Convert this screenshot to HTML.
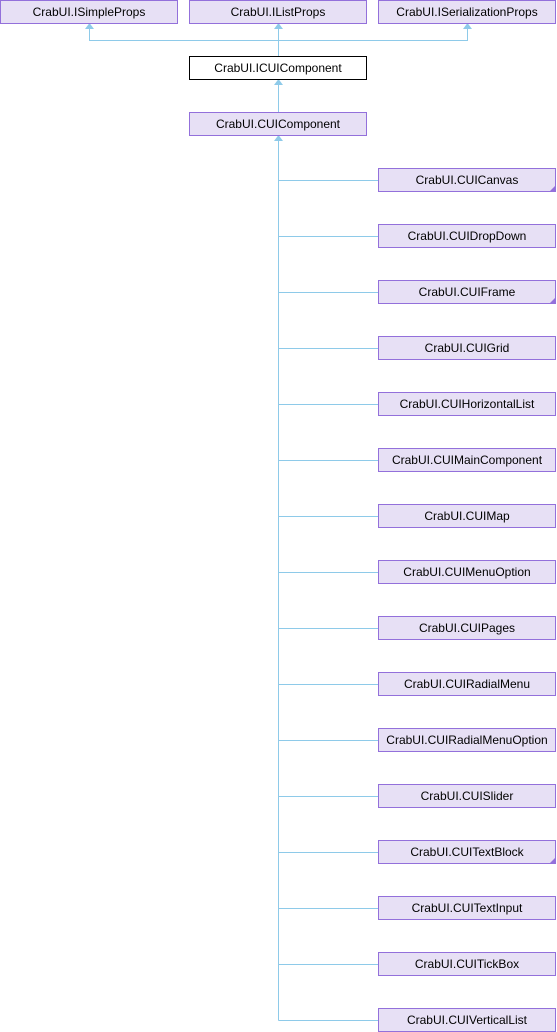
<!DOCTYPE html>
<html><head><meta charset="utf-8"><style>
html,body{margin:0;padding:0;background:#fff;width:557px;height:1032px;overflow:hidden}
svg text{font-family:"Liberation Sans",sans-serif;font-size:12px;fill:#000}
</style></head><body>
<svg width="557" height="1032" xmlns="http://www.w3.org/2000/svg">
<g stroke="#8ecae9" stroke-width="1" fill="none">
<path d="M89.5 28V40.5H467.5V28"/>
<path d="M278.5 28V84"/>
<path d="M278.5 84V140"/>
<path d="M278.5 140V1020.5"/>
</g>
<g fill="#8ecae9">
<polygon points="89.5,23 85,29 94,29"/>
<polygon points="278.5,23 274,29 283,29"/>
<polygon points="467.5,23 463,29 472,29"/>
<polygon points="278.5,79 274,85 283,85"/>
<polygon points="278.5,135 274,141 283,141"/>
</g>
<g id="rows" stroke="#8ecae9" stroke-width="1"></g>
<g stroke="#9370db" stroke-width="1" fill="#e7e0f5">
<rect x="0.5" y="0.5" width="177" height="23"/>
<rect x="189.5" y="0.5" width="177" height="23"/>
<rect x="378.5" y="0.5" width="177" height="23"/>
<rect x="189.5" y="112.5" width="177" height="23"/>
</g>
<rect x="189.5" y="56.5" width="177" height="23" fill="#fff" stroke="#000"/>
<g text-anchor="middle">
<text x="89" y="16">CrabUI.ISimpleProps</text>
<text x="278" y="16">CrabUI.IListProps</text>
<text x="467" y="16">CrabUI.ISerializationProps</text>
<text x="278" y="72">CrabUI.ICUIComponent</text>
<text x="278" y="128">CrabUI.CUIComponent</text>
</g>
<g id="kids"></g>
</svg>
<script>
var names=["CUICanvas","CUIDropDown","CUIFrame","CUIGrid","CUIHorizontalList","CUIMainComponent","CUIMap","CUIMenuOption","CUIPages","CUIRadialMenu","CUIRadialMenuOption","CUISlider","CUITextBlock","CUITextInput","CUITickBox","CUIVerticalList"];
var corner={"CUICanvas":1,"CUIFrame":1,"CUITextBlock":1};
var s="";
names.forEach(function(n,i){var y=168+56*i;
s+='<line x1="278.5" y1="'+(y+12.5)+'" x2="378" y2="'+(y+12.5)+'" stroke="#8ecae9"/>';
s+='<rect x="378.5" y="'+(y+0.5)+'" width="177" height="23" fill="#e7e0f5" stroke="#9370db"/>';
if(corner[n])s+='<polygon points="556,'+(y+17)+' 556,'+(y+24)+' 549,'+(y+24)+'" fill="#9370db"/>';
s+='<text x="467" y="'+(y+16)+'" text-anchor="middle">CrabUI.'+n+'</text>';});
document.getElementById("kids").innerHTML=s;
</script>
</body></html>
